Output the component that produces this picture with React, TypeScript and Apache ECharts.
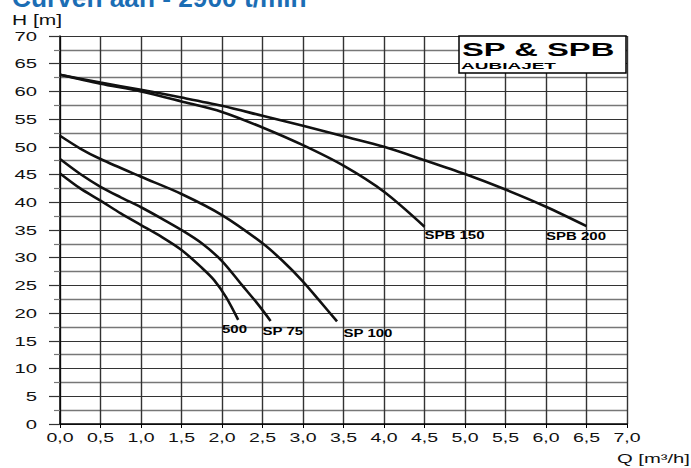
import React, { useEffect, useRef } from 'react';
import * as echarts from 'echarts';

const FAMILY = '"Liberation Sans", Arial, Helvetica, sans-serif';

// Q [m3/h], H [m]
const curve500: number[][] = [[0, 45.2], [0.25, 42.5], [0.5, 40.3], [0.75, 38.0], [1.0, 35.9], [1.25, 33.8], [1.5, 31.4], [1.75, 28.2], [1.9, 26.0], [2.05, 22.9], [2.2, 18.8]];
const curveSP75: number[][] = [[0, 47.8], [0.25, 45.1], [0.5, 42.8], [0.75, 40.9], [1.0, 39.1], [1.25, 37.1], [1.5, 35.0], [1.75, 32.6], [2.0, 29.4], [2.25, 25.0], [2.45, 21.5], [2.6, 18.6]];
const curveSP100: number[][] = [[0, 52.0], [0.25, 49.7], [0.5, 47.8], [1.0, 44.6], [1.5, 41.5], [2.0, 37.7], [2.5, 32.6], [2.75, 29.4], [3.0, 25.7], [3.2, 22.3], [3.42, 18.5]];
const curveSPB150: number[][] = [[0, 63.0], [0.5, 61.4], [1.0, 60.0], [1.5, 58.2], [2.0, 56.3], [2.5, 53.5], [3.0, 50.3], [3.5, 46.6], [4.0, 41.9], [4.5, 35.6]];
const curveSPB200: number[][] = [[0, 63.0], [0.5, 61.6], [1.0, 60.3], [1.5, 58.9], [2.0, 57.4], [2.5, 55.6], [3.0, 53.8], [3.5, 51.9], [4.0, 50.0], [4.5, 47.6], [5.0, 45.1], [5.5, 42.3], [6.0, 39.2], [6.5, 35.7]];

const curveNames = ['500', 'SP 75', 'SP 100', 'SPB 150', 'SPB 200'];
// label anchor (left-middle) for each curve name
const curveLabelPos: number[][] = [[2.0, 17.0], [2.5, 16.7], [3.5, 16.4], [4.5, 34.0], [6.0, 33.9]];

const xTicks = [0, 0.5, 1, 1.5, 2, 2.5, 3, 3.5, 4, 4.5, 5, 5.5, 6, 6.5, 7];
const xTickLabels = ['0,0', '0,5', '1,0', '1,5', '2,0', '2,5', '3,0', '3,5', '4,0', '4,5', '5,0', '5,5', '6,0', '6,5', '7,0'];
const yTicks = [0, 5, 10, 15, 20, 25, 30, 35, 40, 45, 50, 55, 60, 65, 70];
const yTickLabels = ['0', '5', '10', '15', '20', '25', '30', '35', '40', '45', '50', '55', '60', '65', '70'];

const titleText = 'Curven aan - 2900 t/min';
const yAxisTitle = 'H [m]';
const xAxisTitle = 'Q [m³/h]';
const boxTitle = 'SP & SPB';
const boxSubtitle = 'AUBIAJET';

function textEl(text: string, x: number, y: number, size: number, weight: string, align: string, vAlign: string, scaleX: number, fill = '#000') {
  return {
    type: 'text',
    x,
    y,
    scaleX,
    style: {
      text,
      fontSize: size,
      fontWeight: weight,
      fontFamily: FAMILY,
      fill,
      textAlign: align,
      align,
      textVerticalAlign: vAlign,
      verticalAlign: vAlign,
    },
  };
}

export default function App() {
  const ref = useRef<HTMLDivElement>(null);
  useEffect(() => {
    document.body.style.margin = '0';
    const chart = echarts.init(ref.current!, null, { renderer: 'svg' });
    const curves = [curve500, curveSP75, curveSP100, curveSPB150, curveSPB200];
    const option: any = {
      animation: false,
      backgroundColor: '#fff',
      grid: { left: 60, right: 64, top: 36, bottom: 44, containLabel: false },
      xAxis: {
        type: 'value',
        min: 0,
        max: 7,
        interval: 0.5,
        axisLine: { show: true, onZero: false, lineStyle: { color: '#000', width: 1.5 } },
        axisTick: { show: true, length: 4, lineStyle: { color: '#000', width: 1 } },
        axisLabel: { show: false },
        splitLine: { show: true, showMinLine: true, showMaxLine: true, lineStyle: { color: '#333', width: 1.4 } },
      },
      yAxis: {
        type: 'value',
        min: 0,
        max: 70,
        interval: 5,
        axisLine: { show: true, onZero: false, lineStyle: { color: '#000', width: 1.5 } },
        axisTick: { show: true, length: 11, lineStyle: { color: '#333', width: 1.2 } },
        minorTick: { show: true, splitNumber: 2, length: 6, lineStyle: { color: '#777', width: 1.2 } },
        axisLabel: { show: false },
        splitLine: { show: true, showMinLine: true, showMaxLine: true, lineStyle: { color: '#333', width: 1.2 } },
        minorSplitLine: { show: true, lineStyle: { color: '#777', width: 1.4 } },
      },
      series: [
        ...curves.map((d, i) => ({
          type: 'line',
          name: curveNames[i],
          data: d,
          smooth: 0.3,
          symbol: 'none',
          silent: true,
          z: 5,
          lineStyle: { color: '#111', width: 2.6 },
        })),
        {
          type: 'custom',
          name: 'curveLabels',
          data: curveLabelPos,
          clip: false,
          silent: true,
          z: 6,
          renderItem: (params: any, api: any) => {
            const p = api.coord([api.value(0), api.value(1)]);
            return textEl(curveNames[params.dataIndex], p[0], p[1], 10, 'bold', 'left', 'middle', 1.5);
          },
        },
        {
          type: 'custom',
          name: 'xLabels',
          data: xTicks.map((v) => [v, 0]),
          clip: false,
          silent: true,
          renderItem: (params: any, api: any) => {
            const p = api.coord([api.value(0), 0]);
            return textEl(xTickLabels[params.dataIndex], p[0], p[1] + 14, 13, 'normal', 'center', 'middle', 1.5, '#111');
          },
        },
        {
          type: 'custom',
          name: 'yLabels',
          data: yTicks.map((v) => [0, v]),
          clip: false,
          silent: true,
          renderItem: (params: any, api: any) => {
            const p = api.coord([0, api.value(1)]);
            return textEl(yTickLabels[params.dataIndex], p[0] - 23, p[1], 13.5, 'normal', 'right', 'middle', 1.5, '#111');
          },
        },
      ],
      graphic: [
        { ...textEl(titleText, 12, 11, 25, 'bold', 'left', 'bottom', 1.05, '#1b6db4'), z: 100 },
        { ...textEl(yAxisTitle, 12, 20, 14, 'normal', 'left', 'middle', 1.5, '#111'), z: 100 },
        { ...textEl(xAxisTitle, 690, 458, 13.5, 'normal', 'right', 'middle', 1.5, '#111'), z: 100 },
        {
          type: 'rect',
          z: 100,
          shape: { x: 459, y: 36, width: 167, height: 37 },
          style: { fill: '#fff', stroke: '#000', lineWidth: 1.5 },
        },
        { ...textEl(boxTitle, 462, 49.5, 18, 'bold', 'left', 'middle', 1.82), z: 101 },
        { ...textEl(boxSubtitle, 461, 66, 9.5, 'bold', 'left', 'middle', 2.0), z: 101 },
      ],
    };
    chart.setOption(option);
    return () => chart.dispose();
  }, []);
  return <div ref={ref} style={{ width: 691, height: 468, background: '#fff' }} />;
}
